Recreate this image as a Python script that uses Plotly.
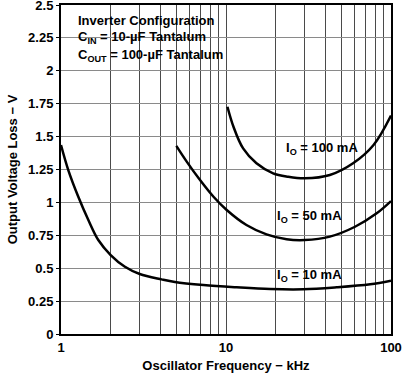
import plotly.graph_objects as go

# ---- data ----
freq_10 = [1.0, 1.107, 1.273, 1.465, 1.683, 2.0, 2.44, 3.0, 4.07, 4.9, 7.3, 11.6, 18.5, 29.4, 46.9, 74.8, 100]
loss_10 = [1.436, 1.246, 1.043, 0.866, 0.714, 0.60, 0.511, 0.456, 0.415, 0.395, 0.372, 0.355, 0.342, 0.340, 0.355, 0.378, 0.405]

freq_50 = [5.0, 5.78, 6.96, 8.4, 10.1, 13.3, 17.6, 23.3, 30, 42.6, 60.5, 81.9, 100]
loss_50 = [1.43, 1.31, 1.17, 1.043, 0.942, 0.828, 0.757, 0.72, 0.714, 0.74, 0.815, 0.917, 1.01]

freq_100 = [10.2, 11.1, 12.7, 15.3, 19.3, 23.8, 30, 42.6, 58.9, 78.4, 100]
loss_100 = [1.727, 1.575, 1.41, 1.297, 1.221, 1.195, 1.183, 1.208, 1.297, 1.436, 1.66]

x_tickvals = [1, 2, 3, 4, 5, 6, 7, 8, 9, 10, 20, 30, 40, 50, 60, 70, 80, 90, 100]
x_ticktext = ["1", "", "", "", "", "", "", "", "", "10", "", "", "", "", "", "", "", "", "100"]
y_tickvals = [0, 0.25, 0.5, 0.75, 1, 1.25, 1.5, 1.75, 2, 2.25, 2.5]
y_ticktext = ["0", "0.25", "0.5", "0.75", "1", "1.25", "1.5", "1.75", "2", "2.25", "2.5"]

series = [
    (freq_10, loss_10, "I<sub>O</sub> = 10 mA"),
    (freq_50, loss_50, "I<sub>O</sub> = 50 mA"),
    (freq_100, loss_100, "I<sub>O</sub> = 100 mA"),
]

FONT = "Liberation Sans, Arial, sans-serif"
TF = dict(family=FONT, size=13, color="black", weight="bold")

fig = go.Figure()
for fx, fy, name in series:
    fig.add_trace(go.Scatter(x=fx, y=fy, mode="lines", name=name,
                             line=dict(color="black", width=2.5, shape="spline", smoothing=1.0),
                             showlegend=False, hoverinfo="skip"))

fig.update_layout(
    template="none",
    width=402, height=373,
    margin=dict(l=61, r=11, t=5, b=39, autoexpand=False),
    paper_bgcolor="white", plot_bgcolor="white",
    font=TF,
)

fig.update_xaxes(
    type="log", range=[0, 2], automargin=False, ticklabeloverflow="allow",
    tickvals=x_tickvals, ticktext=x_ticktext,
    showgrid=True, gridcolor="#4a4a4a", gridwidth=1,
    showline=True, linecolor="black", linewidth=2, mirror=True,
    ticks="", zeroline=False,
    tickfont=TF,
    title=dict(text="Oscillator Frequency − kHz", standoff=8, font=TF),
)
fig.update_yaxes(
    range=[0, 2.5], automargin=False, ticklabeloverflow="allow",
    tickvals=y_tickvals, ticktext=y_ticktext,
    showgrid=True, gridcolor="#8a8a8a", gridwidth=1,
    showline=True, linecolor="black", linewidth=2, mirror=True,
    ticks="outside", ticklen=3, tickcolor="black", zeroline=False,
    tickfont=TF,
    title=dict(text="Output Voltage Loss − V", standoff=8, font=TF),
)

# white box behind the condition text
fig.add_shape(type="rect", xref="paper", yref="paper",
              x0=0, x1=0.576, y0=0.815, y1=0.99,
              fillcolor="white", line=dict(width=0), layer="between")

notes = [
    ("Inverter Configuration", 0.954),
    ("C<sub>IN</sub> = 10-µF Tantalum", 0.900),
    ("C<sub>OUT</sub> = 100-µF Tantalum", 0.846),
]
for txt, yy in notes:
    fig.add_annotation(text=txt, xref="paper", yref="paper", x=0.045, y=yy,
                       xanchor="left", yanchor="middle", showarrow=False, font=TF)

labels = [
    ("I<sub>O</sub> = 100 mA", 0.79, 0.565),
    ("I<sub>O</sub> = 50 mA", 0.752, 0.357),
    ("I<sub>O</sub> = 10 mA", 0.752, 0.179),
]
for txt, xx, yy in labels:
    fig.add_annotation(text=txt, xref="paper", yref="paper", x=xx, y=yy,
                       xanchor="center", yanchor="middle", showarrow=False, font=TF)

fig.write_html("out.html",
               config={"displayModeBar": False, "staticPlot": True},
               post_script="document.body.style.margin='0';document.body.style.padding='0';")
